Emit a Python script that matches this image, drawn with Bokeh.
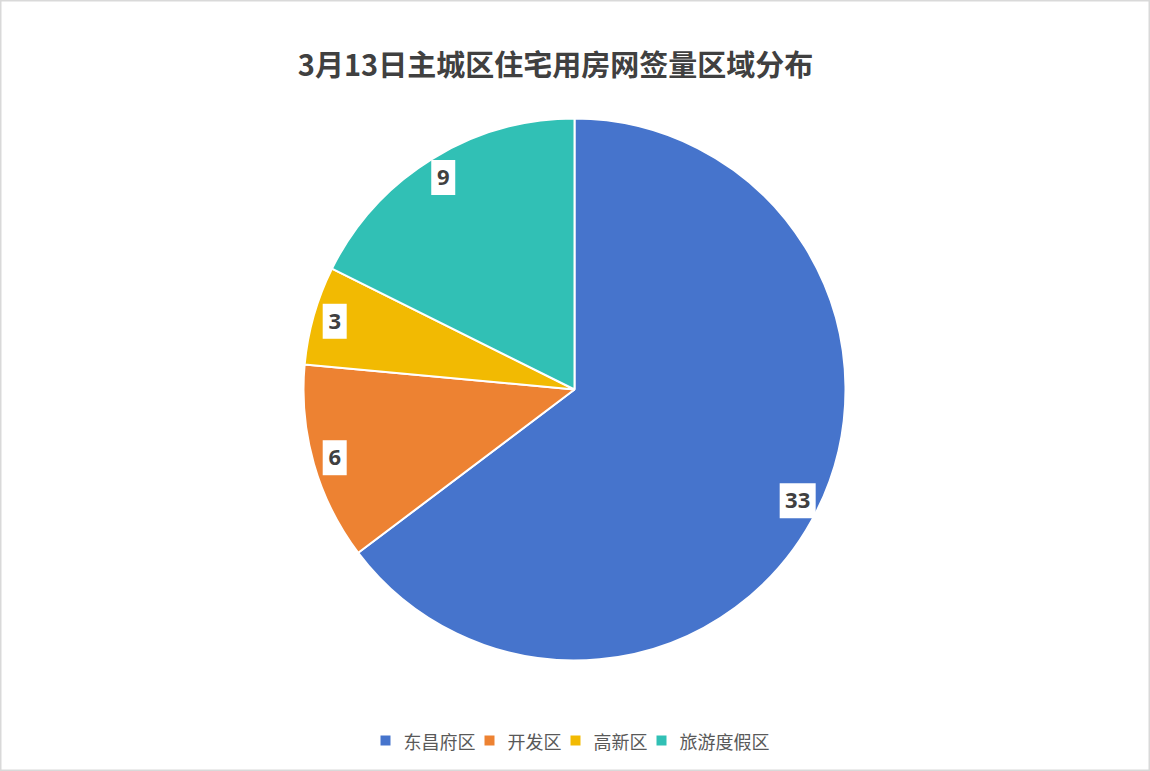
import math
from bokeh.plotting import figure
from bokeh.models import Range1d
from bokeh.core.properties import value
from bokeh.embed import file_html
from bokeh.resources import INLINE

title_text = "3月13日主城区住宅用房网签量区域分布"
categories = ["东昌府区", "开发区", "高新区", "旅游度假区"]
values = [33, 6, 3, 9]
colors = ["#4674CC", "#ED8232", "#F2BA02", "#31C0B5"]

W, H = 1150, 771
p = figure(width=W, height=H, output_backend="svg", toolbar_location=None,
           x_range=Range1d(0, W), y_range=Range1d(0, H),
           min_border=0, tools="")
p.axis.visible = False
p.grid.visible = False
p.outline_line_color = "#d9d9d9"
p.outline_line_width = 2
p.background_fill_color = "white"
p.border_fill_color = "white"

cx, cy, r = 574, 771 - 389, 271
total = sum(values)
cum = 0
starts, ends, mids = [], [], []
for v in values:
    a0 = math.pi / 2 - 2 * math.pi * cum / total
    cum += v
    a1 = math.pi / 2 - 2 * math.pi * cum / total
    starts.append(a0); ends.append(a1); mids.append((a0 + a1) / 2)

p.wedge(x=[cx] * 4, y=[cy] * 4, radius=r, start_angle=starts, end_angle=ends,
        direction="clock", fill_color=colors, line_color="white", line_width=2)

# data labels
lx = [cx + 0.92 * r * math.cos(m) for m in mids]
ly = [cy + 0.92 * r * math.sin(m) for m in mids]
lw = [12 + 12 * len(str(v)) for v in values]
p.rect(x=lx, y=ly, width=lw, height=35, fill_color="white", line_color=None)
p.text(x=lx, y=ly, text=[str(v) for v in values], text_align="center",
       text_baseline="middle", text_font=value("Open Sans"), text_font_style="bold",
       text_font_size="22px", text_color="#404040")

# title
p.text(x=[555], y=[771 - 62], text=[title_text], text_align="center",
       text_baseline="middle", text_font=value("Noto Sans CJK SC"),
       text_font_style="bold", text_font_size="29px", text_color="#404040")

# legend
fs = 18
x = 385
sq_x, tx_x = [], []
for c in categories:
    sq_x.append(x)
    tx_x.append(x + 18)
    x = x + 18 + fs * len(c) + 14
ly_leg = 771 - 740
p.scatter(x=sq_x, y=[ly_leg] * 4, marker="square", size=10, fill_color=colors, line_color=None)
p.text(x=tx_x, y=[ly_leg] * 4, text=categories, text_align="left", text_baseline="middle",
       text_font=value("Noto Sans CJK SC"), text_font_size=f"{fs}px", text_color="#595959")

open("out.html", "w").write(file_html(p, INLINE))
